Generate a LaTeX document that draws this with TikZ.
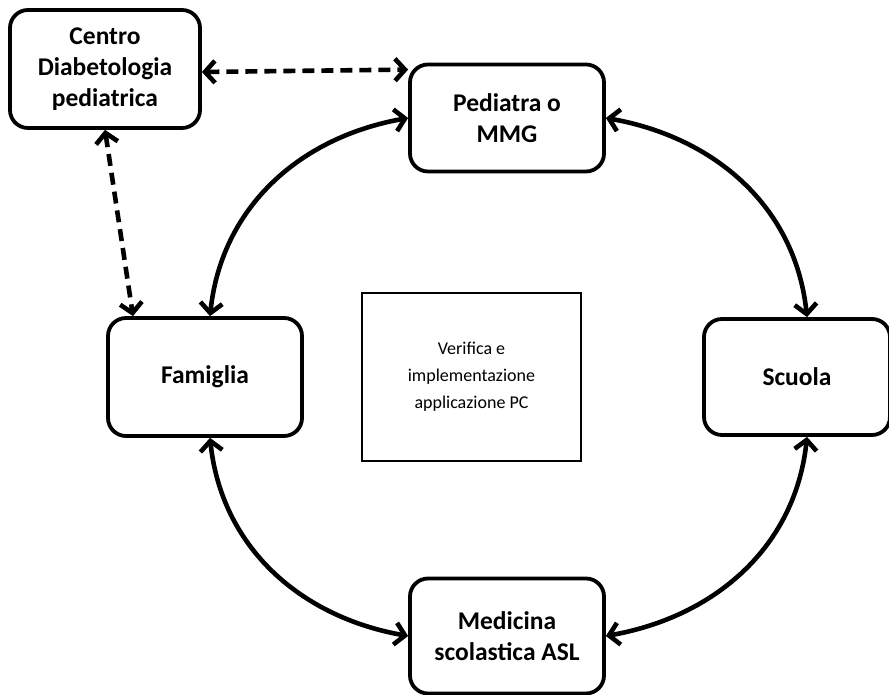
\documentclass[tikz,border=0pt]{standalone}
\usepackage{fontspec}
\setmainfont{Carlito}
\usepackage{tikz}
\usetikzlibrary{arrows.meta}

\begin{document}
\begin{tikzpicture}[x=1pt,y=1pt,
		ente/.style={draw,line width=3.8pt,rounded corners=18pt,align=center,
			font=\fontsize{25.5}{31}\selectfont\bfseries,inner sep=0pt},
		nota/.style={draw,line width=2.6pt,align=center,
			font=\fontsize{18}{27}\selectfont,inner sep=0pt},
		legame/.style={line width=4.6pt,{Straight Barb[length=10pt,width=22pt]}-{Straight Barb[length=10pt,width=22pt]}},
		tratto/.style={legame,dash pattern=on 12pt off 7pt}]
		\useasboundingbox (0,0) rectangle (889,695);
		\node[ente,minimum width=190,minimum height=118] (centro) at (105,626) {Centro\\Diabetologia\\pediatrica};
		\node[ente,minimum width=194,minimum height=107] (ped) at (507,577) {Pediatra o\\MMG};
		\node[ente,minimum width=194,minimum height=118] (fam) at (205,318) {Famiglia};
		\node[nota,minimum width=219,minimum height=168] (verif) at (471.5,318) {Verifica e\\implementazione\\applicazione PC};
		\node[ente,minimum width=186,minimum height=116] (scuola) at (797,318) {Scuola};
		\node[ente,minimum width=194,minimum height=115] (med) at (507,59) {Medicina\\scolastica ASL};
		\path[tratto]
		(centro.east |- 0,623) edge ([yshift=-7pt]ped.north west)
		(centro.south) edge ([xshift=-72pt]fam.north);
		\path[legame]
		([xshift=5pt]fam.north) edge[out=84,in=190] (ped.west)
		(ped.east) edge[out=-10,in=96] ([xshift=10pt]scuola.north)
		([xshift=10pt]scuola.south) edge[out=-96,in=10] (med.east)
		(med.west) edge[out=170,in=-84] ([xshift=5pt]fam.south);
\end{tikzpicture}
\end{document}
